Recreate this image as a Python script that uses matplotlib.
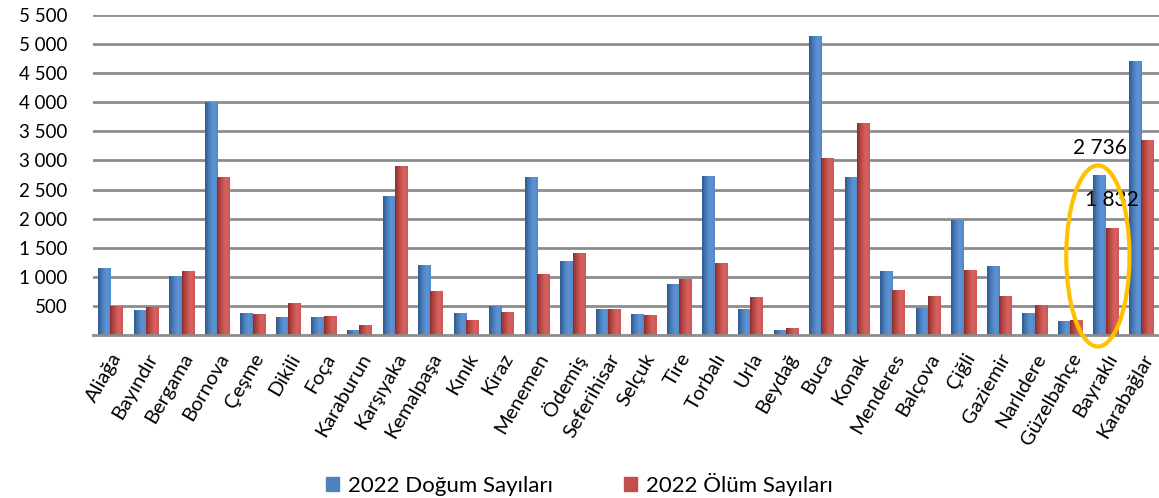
import numpy as np
import matplotlib
matplotlib.use("Agg")
import matplotlib.pyplot as plt
from matplotlib.colors import LinearSegmentedColormap
from matplotlib.patches import Ellipse, Patch
from matplotlib.ticker import FuncFormatter

ilceler = ["Aliağa", "Bayındır", "Bergama", "Bornova", "Çeşme", "Dikili", "Foça",
           "Karaburun", "Karşıyaka", "Kemalpaşa", "Kınık", "Kiraz", "Menemen",
           "Ödemiş", "Seferihisar", "Selçuk", "Tire", "Torbalı", "Urla", "Beydağ",
           "Buca", "Konak", "Menderes", "Balçova", "Çiğli", "Gaziemir", "Narlıdere",
           "Güzelbahçe", "Bayraklı", "Karabağlar"]
dogum = [1150, 420, 1010, 4000, 375, 305, 295, 70, 2375, 1200, 365, 490, 2710,
         1255, 435, 350, 865, 2715, 435, 75, 5130, 2705, 1095, 450, 1975, 1185,
         365, 225, 2736, 4695]
olum = [490, 475, 1095, 2700, 345, 540, 310, 160, 2900, 750, 250, 395, 1035,
        1405, 435, 330, 950, 1235, 645, 105, 3030, 3630, 760, 660, 1105, 655,
        500, 255, 1832, 3345]
etiket_ilce = "Bayraklı"

plt.rcParams['font.family'] = ['Lato', 'DejaVu Sans']

fig = plt.figure(figsize=(11.59, 4.98), dpi=100)
ax = fig.add_axes([0.080, 0.327, 0.920, 0.643])

x = np.arange(len(ilceler))
w = 0.345
b1 = ax.bar(x - w / 2, dogum, w, color="#4F81BD", zorder=2)
b2 = ax.bar(x + w / 2, olum, w, color="#C0504D", zorder=2)

# Excel tarzı gölgeli çubuklar
cm_mavi = LinearSegmentedColormap.from_list("m", ["#2F5A8C", "#4A7DBA", "#5E93D5", "#5589C8"])
cm_kirmizi = LinearSegmentedColormap.from_list("k", ["#8A2E2B", "#BC4A47", "#D8625F", "#CC5855"])
grad = np.linspace(0, 1, 64).reshape(1, -1)
for bars, cm in [(b1, cm_mavi), (b2, cm_kirmizi)]:
    for p in bars:
        x0, y0 = p.get_x(), p.get_y()
        ax.imshow(grad, cmap=cm, aspect="auto", zorder=2.1,
                  extent=[x0, x0 + p.get_width(), y0, y0 + p.get_height()])

ax.set_xlim(-0.5, len(ilceler) - 0.5)
ax.set_ylim(0, 5500)
ax.set_yticks(np.arange(500, 5501, 500))
ax.yaxis.set_major_formatter(FuncFormatter(lambda v, _: f"{int(v):,}".replace(",", " ")))
ax.grid(axis="y", color="#8C8C8C", linewidth=2, zorder=0)
ax.set_axisbelow(True)
for s in ["top", "right", "left"]:
    ax.spines[s].set_visible(False)
ax.spines["bottom"].set_color("#8C8C8C")
ax.spines["bottom"].set_linewidth(2)
ax.tick_params(axis="y", length=0, labelsize=13.5, pad=18)
ax.tick_params(axis="x", length=0, labelsize=14.5, pad=11)
ax.set_xticks(x)
ax.set_xticklabels(ilceler, rotation=60, ha="right", rotation_mode="anchor")

# Bayraklı etiketleri ve halka
i = ilceler.index(etiket_ilce)
for xv, val in [(i - w / 2, dogum[i]), (i + w / 2, olum[i])]:
    ax.annotate(f"{val:,}".replace(",", " "), (xv, val), xytext=(0, 13),
                textcoords="offset points", ha="center", va="bottom", fontsize=15)
ax.add_patch(Ellipse((i - 0.22, 1360), 1.78, 3110, fill=False, edgecolor="#FFC000",
                     linewidth=3, zorder=5, clip_on=False))

handles = [Patch(color="#4F81BD"), Patch(color="#C0504D")]
fig.legend(handles, ["2022 Doğum Sayıları", "2022 Ölüm Sayıları"], loc="center",
           bbox_to_anchor=(0.5, 0.027), ncol=2, frameon=False, fontsize=16,
           handlelength=0.6, handleheight=0.6, handletextpad=0.4, columnspacing=3.2)

fig.savefig("out.png", dpi=100)
